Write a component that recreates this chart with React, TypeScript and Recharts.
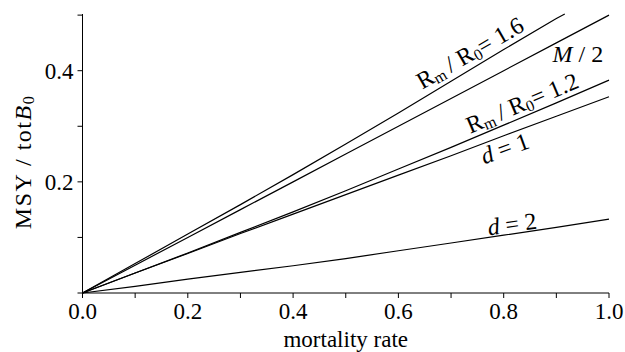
import { LineChart, Line, XAxis, YAxis, ReferenceDot } from 'recharts'

const FONT = '"Liberation Serif", "DejaVu Serif", serif'

// mortality rate (x)
const mortality = [0, 0.1, 0.2, 0.3, 0.4, 0.5, 0.6, 0.7, 0.8, 0.9, 1.0]
const mortalityShort = [0, 0.1, 0.2, 0.3, 0.4, 0.5, 0.6, 0.7, 0.8, 0.9, 0.916]

// MSY / totB0 for each curve
const ratio16 = [0, 0.053, 0.106, 0.159, 0.213, 0.268, 0.324, 0.381, 0.438, 0.494, 0.502]
const halfM = [0, 0.05, 0.1, 0.15, 0.2, 0.25, 0.3, 0.35, 0.4, 0.45, 0.5]
const ratio12 = [0, 0.036, 0.072, 0.109, 0.146, 0.184, 0.223, 0.262, 0.302, 0.342, 0.383]
const dOne = [0, 0.036, 0.071, 0.107, 0.142, 0.177, 0.212, 0.247, 0.283, 0.318, 0.353]
const dTwo = [0, 0.012, 0.025, 0.037, 0.049, 0.062, 0.076, 0.09, 0.104, 0.118, 0.133]

const xTicks = [0, 0.1, 0.2, 0.3, 0.4, 0.5, 0.6, 0.7, 0.8, 0.9, 1.0]
const yTicks = [0, 0.1, 0.2, 0.3, 0.4, 0.5]

const toRows = (xs: number[], ys: number[]) => xs.map((x, i) => ({ x, y: ys[i] }))

// curve labels: [x, y, angle, kind]
const curveLabels = [
  { x: 0.736, y: 0.432, angle: -30, kind: 'r16' },
  { x: 0.941, y: 0.43, angle: 0, kind: 'm2' },
  { x: 0.835, y: 0.342, angle: -23, kind: 'r12' },
  { x: 0.802, y: 0.26, angle: -20, kind: 'd1' },
  { x: 0.816, y: 0.124, angle: -8, kind: 'd2' },
]

function labelBody(kind: string) {
  if (kind === 'r16' || kind === 'r12') {
    return (
      <>
        <tspan>R</tspan>
        <tspan fontSize={16} dy={5}>m</tspan>
        <tspan dy={-5}>{'\u2009/ R'}</tspan>
        <tspan fontSize={16} dy={5}>0</tspan>
        <tspan dy={-5}>{kind === 'r16' ? '= 1.6' : '= 1.2'}</tspan>
      </>
    )
  }
  if (kind === 'm2') {
    return (
      <>
        <tspan fontStyle="italic">M</tspan>
        <tspan> / 2</tspan>
      </>
    )
  }
  return (
    <>
      <tspan fontStyle="italic">d</tspan>
      <tspan>{kind === 'd1' ? ' = 1' : ' = 2'}</tspan>
    </>
  )
}

function CurveLabel(props: any) {
  const { cx, cy, angle, kind } = props
  return (
    <text
      x={cx}
      y={cy}
      textAnchor="middle"
      dominantBaseline="central"
      fontFamily={FONT}
      fontSize={24}
      fill="#000"
      transform={`rotate(${angle} ${cx} ${cy})`}
    >
      {labelBody(kind)}
    </text>
  )
}

function YLabel() {
  const cx = 23
  const cy = 162
  return (
    <text
      x={cx}
      y={cy}
      textAnchor="middle"
      dominantBaseline="central"
      fontFamily={FONT}
      fontSize={24}
      letterSpacing={1.5}
      fill="#000"
      transform={`rotate(-90 ${cx} ${cy})`}
    >
      <tspan>MSY / tot</tspan>
      <tspan fontStyle="italic">B</tspan>
      <tspan fontSize={16} dy={5}>0</tspan>
    </text>
  )
}

export default function App() {
  const axisStyle = { fontFamily: FONT, fontSize: 23, fill: '#000' }
  return (
    <div style={{ position: 'absolute', left: 0, top: 0, background: '#fff' }}>
      <LineChart width={625} height={352} margin={{ top: 14, right: 16, bottom: 0, left: 0 }}>
        <XAxis
          type="number"
          dataKey="x"
          domain={[0, 1]}
          ticks={xTicks}
          interval={0}
          height={59}
          tickSize={5}
          tickMargin={5}
          stroke="#000"
          tick={axisStyle}
          tickFormatter={(v: number) => (Math.round(v * 10) % 2 === 0 ? v.toFixed(1) : '')}
          label={{ value: 'mortality rate', position: 'insideBottom', offset: 5, fill: '#000', fontSize: 23, fontFamily: FONT }}
          allowDuplicatedCategory={false}
        />
        <YAxis
          type="number"
          domain={[0, 0.5]}
          ticks={yTicks}
          interval={0}
          width={82.5}
          tickSize={5}
          tickMargin={4}
          stroke="#000"
          tick={axisStyle}
          tickFormatter={(v: number) => (v === 0.2 || v === 0.4 ? v.toFixed(1) : '')}
          label={{ content: () => <YLabel /> }}
        />
        <Line data={toRows(mortalityShort, ratio16)} dataKey="y" type="linear" stroke="#000" strokeWidth={1.2} dot={false} isAnimationActive={false} />
        <Line data={toRows(mortality, halfM)} dataKey="y" type="linear" stroke="#000" strokeWidth={1.2} dot={false} isAnimationActive={false} />
        <Line data={toRows(mortality, ratio12)} dataKey="y" type="linear" stroke="#000" strokeWidth={1.2} dot={false} isAnimationActive={false} />
        <Line data={toRows(mortality, dOne)} dataKey="y" type="linear" stroke="#000" strokeWidth={1.2} dot={false} isAnimationActive={false} />
        <Line data={toRows(mortality, dTwo)} dataKey="y" type="linear" stroke="#000" strokeWidth={1.2} dot={false} isAnimationActive={false} />
        {curveLabels.map((l) => (
          <ReferenceDot
            key={l.kind}
            x={l.x}
            y={l.y}
            r={0}
            shape={(p: any) => <CurveLabel cx={p.cx} cy={p.cy} angle={l.angle} kind={l.kind} />}
          />
        ))}
      </LineChart>
    </div>
  )
}
